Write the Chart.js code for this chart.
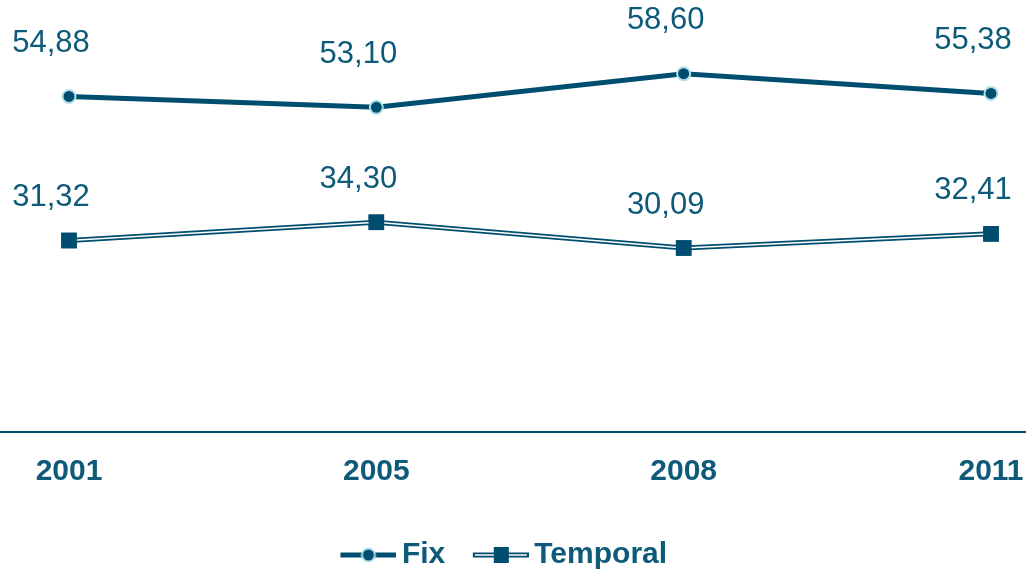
<!DOCTYPE html>
<html>
<head>
<meta charset="utf-8">
<script src="https://cdn.jsdelivr.net/npm/chart.js@4"></script>
<style>
  html, body { margin: 0; padding: 0; background: #fff; }
  #wrap { width: 1026px; height: 570px; position: relative; }
</style>
</head>
<body>
<div id="wrap"><canvas id="chart"></canvas></div>
<script>
var years = ['2001', '2005', '2008', '2011'];
var fixValues = [54.88, 53.10, 58.60, 55.38];
var temporalValues = [31.32, 34.30, 30.09, 32.41];

var lineColor = '#004e6f';
var textColor = '#0d5a79';
var pointRim = '#b5dfe8';

Chart.defaults.font.family = '"Liberation Sans", Arial, sans-serif';
Chart.defaults.color = textColor;

function fmt(v) {
    return v.toFixed(2).replace('.', ',');
}

// legend symbols: line with marker, transparent margin on the left
var symW = 56;
function legendSymbol(kind) {
    var c = document.createElement('canvas');
    c.width = 65;
    c.height = 18;
    var g = c.getContext('2d');
    var x0 = c.width - symW, mid = x0 + symW / 2;
    g.strokeStyle = lineColor;
    g.lineWidth = 5;
    g.beginPath();
    g.moveTo(x0, 9);
    g.lineTo(c.width, 9);
    g.stroke();
    if (kind === 'circle') {
        g.beginPath();
        g.arc(mid, 9, 6.5, 0, Math.PI * 2);
        g.fillStyle = lineColor;
        g.fill();
        g.lineWidth = 2;
        g.strokeStyle = pointRim;
        g.stroke();
    } else {
        g.strokeStyle = '#fff';
        g.lineWidth = 1.5;
        g.beginPath();
        g.moveTo(x0 + 2, 9);
        g.lineTo(c.width - 2, 9);
        g.stroke();
        g.fillStyle = lineColor;
        g.fillRect(mid - 7, 1, 15, 16);
    }
    return c;
}

var symbols = [legendSymbol('circle'), legendSymbol('rect')];

// value labels above points, white center stroke for the double line, full-width axis line
var extras = {
    id: 'extras',
    afterDatasetDraw: function (chart, args) {
        if (args.index !== 1) return;
        var ctx = chart.ctx;
        var pts = args.meta.data;
        ctx.save();
        ctx.strokeStyle = '#fff';
        ctx.lineWidth = 1.5;
        ctx.beginPath();
        pts.forEach(function (p, i) {
            if (i === 0) ctx.moveTo(p.x, p.y); else ctx.lineTo(p.x, p.y);
        });
        ctx.stroke();
        ctx.restore();
        pts.forEach(function (p) { p.draw(ctx, chart.chartArea); });
    },
    afterDraw: function (chart) {
        var ctx = chart.ctx;
        var xs = chart.scales.x;
        ctx.save();
        ctx.strokeStyle = lineColor;
        ctx.lineWidth = 2;
        ctx.beginPath();
        ctx.moveTo(0, xs.top);
        ctx.lineTo(chart.width, xs.top);
        ctx.stroke();

        ctx.font = '31px "Liberation Sans", Arial, sans-serif';
        ctx.fillStyle = textColor;
        ctx.textAlign = 'center';
        ctx.textBaseline = 'middle';
        var offsets = [53, 43];
        chart.data.datasets.forEach(function (ds, di) {
            var meta = chart.getDatasetMeta(di);
            meta.data.forEach(function (p, i) {
                var txt = fmt(ds.data[i]);
                var w = ctx.measureText(txt).width;
                var x = p.x - 18;
                x = Math.min(x, chart.width - 14 - w / 2);
                ctx.fillText(txt, x, p.y - offsets[di]);
            });
        });
        ctx.restore();
    }
};

new Chart(document.getElementById('chart'), {
    type: 'line',
    data: {
        labels: years,
        datasets: [{
            label: 'Fix',
            data: fixValues,
            borderColor: lineColor,
            borderWidth: 5,
            pointStyle: 'circle',
            pointRadius: 6.5,
            pointBackgroundColor: lineColor,
            pointBorderColor: pointRim,
            pointBorderWidth: 2,
            tension: 0
        }, {
            label: 'Temporal',
            data: temporalValues,
            borderColor: lineColor,
            borderWidth: 5,
            pointStyle: 'rect',
            pointRadius: 11,
            pointBackgroundColor: lineColor,
            pointBorderColor: lineColor,
            pointBorderWidth: 0,
            tension: 0
        }]
    },
    options: {
        responsive: true,
        maintainAspectRatio: false,
        animation: false,
        layout: {
            autoPadding: false,
            padding: { left: 0, right: 18, top: 4, bottom: -10 }
        },
        scales: {
            x: {
                offset: false,
                grid: { display: false, drawTicks: false },
                border: { display: false },
                afterFit: function (scale) {
                    scale.paddingLeft = 69;
                    scale.paddingRight = 35;
                },
                ticks: {
                    padding: 22,
                    color: textColor,
                    font: { size: 30, weight: 'bold' },
                    maxRotation: 0
                }
            },
            y: {
                display: false,
                min: 0,
                max: 70
            }
        },
        plugins: {
            tooltip: { enabled: false },
            legend: {
                position: 'bottom',
                labels: {
                    usePointStyle: true,
                    pointStyleWidth: 46,
                    boxHeight: 18,
                    padding: 28,
                    color: textColor,
                    font: { size: 30, weight: 'bold' },
                    generateLabels: function (chart) {
                        return chart.data.datasets.map(function (ds, i) {
                            return {
                                text: ds.label,
                                pointStyle: symbols[i],
                                fontColor: textColor,
                                datasetIndex: i,
                                hidden: false,
                                lineWidth: 0
                            };
                        });
                    }
                }
            }
        }
    },
    plugins: [extras]
});
</script>
</body>
</html>
